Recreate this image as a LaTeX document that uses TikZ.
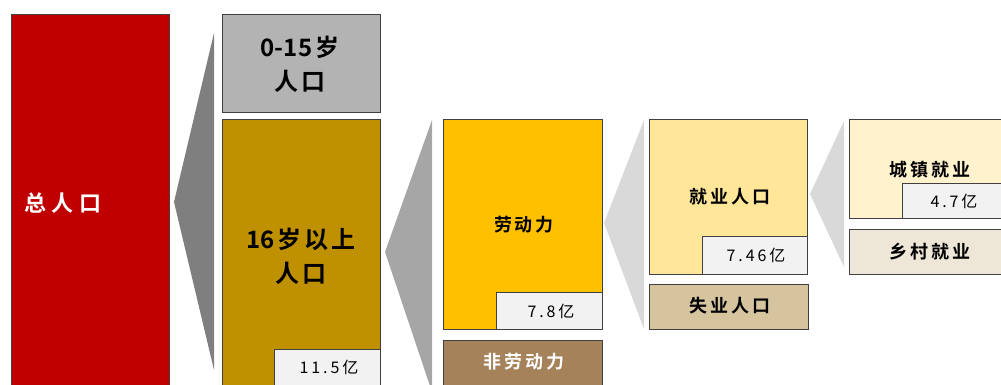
\documentclass[tikz,border=0pt]{standalone}
\usepackage{fontspec}
\newfontfamily\cjk[LetterSpace=18]{Noto Sans CJK SC}
\newfontfamily\cjkb[LetterSpace=16]{Noto Sans CJK SC Bold}
\newfontfamily\cjkbt{Noto Sans CJK SC Bold}
\newfontfamily\cjkbw[LetterSpace=24]{Noto Sans CJK SC Bold}
\definecolor{cRed}{HTML}{C00000}
\definecolor{cGrayBox}{HTML}{B3B3B3}
\definecolor{cGold}{HTML}{BF9000}
\definecolor{cAmber}{HTML}{FFC000}
\definecolor{cBrown}{HTML}{A5825A}
\definecolor{cLightY}{HTML}{FFE699}
\definecolor{cTan}{HTML}{D5C49E}
\definecolor{cPaleY}{HTML}{FFF2CC}
\definecolor{cPaleTan}{HTML}{EEE6D7}
\definecolor{cVal}{HTML}{F2F2F2}
\definecolor{cTri1}{HTML}{7F7F7F}
\definecolor{cTri2}{HTML}{A6A6A6}
\definecolor{cTri3}{HTML}{D9D9D9}
\definecolor{cEdge}{HTML}{404040}
\tikzset{
  box/.style={draw=cEdge, line width=0.8pt, anchor=north west, inner sep=0pt, align=center},
  valbox/.style={box, fill=cVal},
  valtxt/.style={font=\cjk\fontsize{16}{16}\selectfont},
  bigtxt/.style={font=\cjkbt\fontsize{24}{34}\selectfont, align=center},
  midtxt/.style={font=\cjkb\fontsize{18}{22}\selectfont},
}
\newcommand{\gp}{\hspace{3pt}}
\begin{document}
\begin{tikzpicture}[x=1pt,y=-1pt]
\useasboundingbox (0,0) rectangle (1001,385);
\clip (0,0) rectangle (1001,385);
% triangles (funnels)
\fill[cTri1] (174,202) -- (214,33) -- (214,370) -- cycle;
\fill[cTri2] (385,252) -- (432,120) -- (432,392) -- cycle;
\fill[cTri3] (604,223) -- (644,120) -- (644,329) -- cycle;
\fill[cTri3] (810,194) -- (844,121) -- (844,267) -- cycle;
% total
\node[box, fill=cRed, minimum width=158, minimum height=380] (total) at (11,14) {};
\node[font=\cjkbw\fontsize{22}{22}\selectfont, text=white, anchor=west] (totaltxt) at (21,203) {总人口};
% 0-15
\node[box, fill=cGrayBox, minimum width=158, minimum height=98] (young) at (222,14) {};
\node[bigtxt] (youngtxt) at (300,64) {0-15\gp 岁\\人\gp 口};
% 16+
\node[box, fill=cGold, minimum width=158, minimum height=275] (adult) at (222,119) {};
\node[bigtxt] (adulttxt) at (301,256) {16\gp 岁\gp 以\gp 上\\人\gp 口};
\node[valbox, minimum width=106, minimum height=40] (adultval) at (274,349) {};
\node[valtxt] (adultvaltxt) at (329,367) {11.5亿};
% labour force
\node[box, fill=cAmber, minimum width=159, minimum height=210] (labour) at (443,119) {};
\node[midtxt] (labourtxt) at (524,225) {劳动力};
\node[valbox, minimum width=106, minimum height=37] (labourval) at (496,292) {};
\node[valtxt] (labourvaltxt) at (551,311) {7.8亿};
% non-labour
\node[box, fill=cBrown, minimum width=159, minimum height=60] (nonlab) at (443,340) {};
\node[midtxt, text=white] (nonlabtxt) at (524,362) {非劳动力};
% employed
\node[box, fill=cLightY, minimum width=158, minimum height=155] (emp) at (649,119) {};
\node[midtxt] (emptxt) at (730,197) {就业人口};
\node[valbox, minimum width=105, minimum height=38] (empval) at (702,236) {};
\node[valtxt] (empvaltxt) at (756,255) {7.46亿};
% unemployed
\node[box, fill=cTan, minimum width=159, minimum height=45] (unemp) at (649,284) {};
\node[midtxt] (unemptxt) at (730,306) {失业人口};
% urban
\node[box, fill=cPaleY, minimum width=160, minimum height=99] (urban) at (849,119) {};
\node[midtxt] (urbantxt) at (930,170) {城镇就业};
\node[valbox, minimum width=110, minimum height=35] (urbanval) at (902,183) {};
\node[valtxt] (urbanvaltxt) at (954,201) {4.7亿};
% rural
\node[box, fill=cPaleTan, minimum width=160, minimum height=45] (rural) at (849,229) {};
\node[midtxt] (ruraltxt) at (930,252) {乡村就业};
\end{tikzpicture}
\end{document}
